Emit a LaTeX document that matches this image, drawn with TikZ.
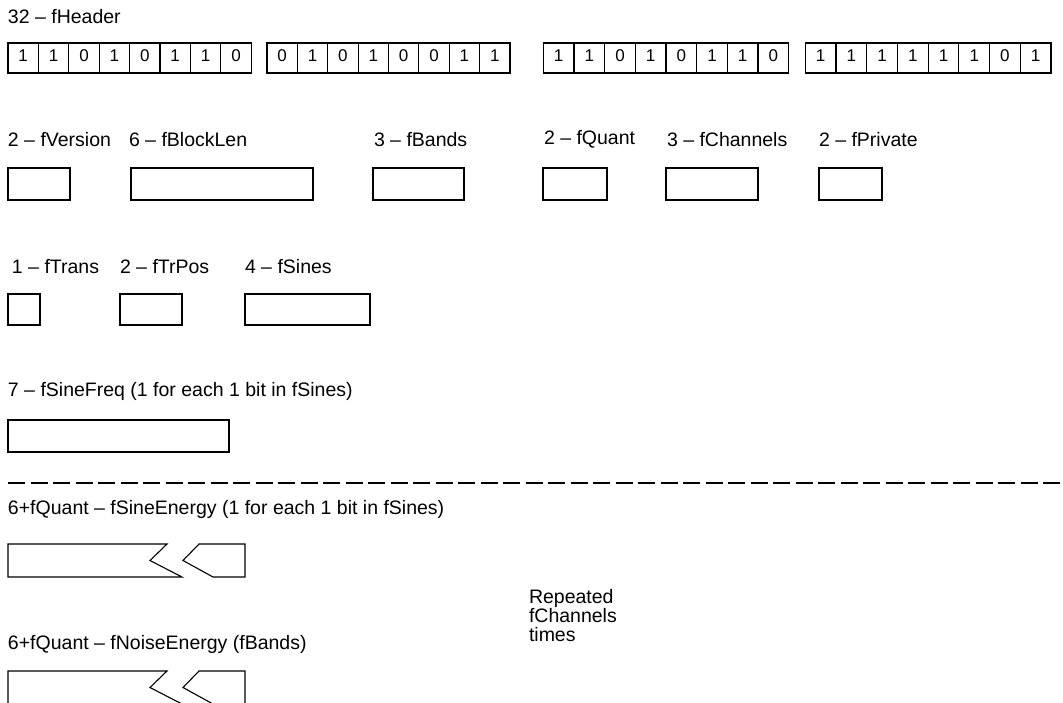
\documentclass[tikz,border=0pt]{standalone}
\usepackage{fontspec}
\setmainfont{Liberation Sans}
\begin{document}
\begin{tikzpicture}[x=1pt,y=-1pt,
  lbl/.style={anchor=base west,inner sep=0pt,outer sep=0pt,font=\fontsize{19.5}{19.5}\selectfont},
  fieldbox/.style={draw,line width=1.2pt,anchor=north west,inner sep=0pt,outer sep=0pt,minimum height=32pt},
  bitcell/.style={draw,line width=1.1pt,anchor=north west,inner sep=0pt,outer sep=0pt,minimum height=30pt},
  bittext/.style={anchor=base,inner sep=0pt,font=\fontsize{17}{17}\selectfont},
  sep/.style={line width=1.1pt,dash pattern=on 17pt off 5.5pt},
  piece/.style={draw,line width=1.1pt,line join=miter}]
\useasboundingbox (0,0) rectangle (1063,702);
\clip (0,0) rectangle (1063,702);

% header
\node[lbl] (hdr) at (8,23) {32 – fHeader};
\foreach \bx/\bw/\bits [count=\j] in {8/243.2/{1,1,0,1,0,1,1,0},267/243/{0,1,0,1,0,0,1,1},543.3/245.4/{1,1,0,1,0,1,1,0},805.3/245.7/{1,1,1,1,1,1,0,1}}{
  \foreach \d [count=\i from 0] in \bits {
    \node[bitcell,minimum width=\bw/8] (c\j-\i) at ({\bx+\i*\bw/8},43) {};
    \node[bittext] (t\j-\i) at ({\bx+(\i+0.5)*\bw/8},61) {\d};
  }
}

% row 2
\node[lbl] (lver) at (8,146) {2 – fVersion};
\node[lbl] (lblk) at (129,146) {6 – fBlockLen};
\node[lbl] (lband) at (374,146) {3 – fBands};
\node[lbl] (lquant) at (544,144) {2 – fQuant};
\node[lbl] (lchan) at (667,146.5) {3 – fChannels};
\node[lbl] (lpriv) at (819,146.5) {2 – fPrivate};
\node[fieldbox,minimum width=62pt] (bver) at (8,168) {};
\node[fieldbox,minimum width=182pt] (bblk) at (131,168) {};
\node[fieldbox,minimum width=91pt] (bband) at (373,168) {};
\node[fieldbox,minimum width=64pt] (bquant) at (543,168) {};
\node[fieldbox,minimum width=92pt] (bchan) at (666,168) {};
\node[fieldbox,minimum width=63pt] (bpriv) at (819,168) {};

% row 3
\node[lbl] (ltrans) at (12,273) {1 – fTrans};
\node[lbl] (ltrpos) at (120,273) {2 – fTrPos};
\node[lbl] (lsines) at (245,273) {4 – fSines};
\node[fieldbox,minimum width=32pt,minimum height=31pt] (btrans) at (8,294) {};
\node[fieldbox,minimum width=62pt,minimum height=31pt] (btrpos) at (120,294) {};
\node[fieldbox,minimum width=125pt,minimum height=31pt] (bsines) at (245,294) {};

% row 4
\node[lbl] (lfreq) at (8,396) {7 – fSineFreq (1 for each 1 bit in fSines)};
\node[fieldbox,minimum width=221pt] (bfreq) at (8,420) {};

% separator
\coordinate (sepL) at (8,483);
\coordinate (sepR) at (1063,483);
\draw[sep] (sepL) -- (sepR);

% row 5
\node[lbl] (lse) at (8,514) {6+fQuant – fSineEnergy (1 for each 1 bit in fSines)};
\draw[piece] (8,544) -- (167,544) -- (150,560.5) -- (182,577) -- (8,577) -- cycle;
\draw[piece] (199,544) -- (245,544) -- (245,577) -- (213,577) -- (183,560.5) -- cycle;

% repeated note
\node[lbl] (rep1) at (529,603) {Repeated};
\node[lbl] (rep2) at (529,622) {fChannels};
\node[lbl] (rep3) at (529,641) {times};

% row 6
\node[lbl] (lne) at (8,649) {6+fQuant – fNoiseEnergy (fBands)};
\begin{scope}[yshift=-127pt]
\draw[piece] (8,544) -- (167,544) -- (150,560.5) -- (182,577) -- (8,577) -- cycle;
\draw[piece] (199,544) -- (245,544) -- (245,577) -- (213,577) -- (183,560.5) -- cycle;
\end{scope}
\end{tikzpicture}
\end{document}
